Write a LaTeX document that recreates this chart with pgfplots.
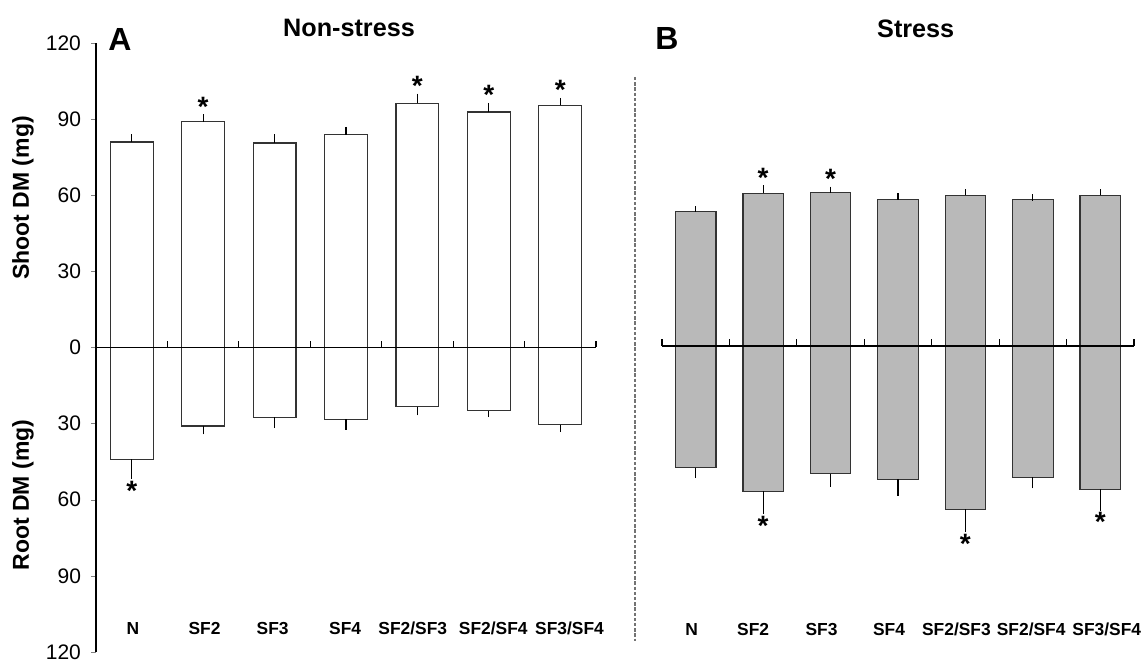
\documentclass[border=0pt]{standalone}
\usepackage{fontspec}
\setmainfont{Liberation Sans}
\usepackage{pgfplots}
\usepackage{pgfplotstable}
\pgfplotsset{compat=1.18}

% x: category centre; s: shoot DM; se: shoot error; r: root DM (negative, drawn downward); re: root error
\pgfplotstableread{
x   s     se   r      re
0.5 81.0  1.8  -44.1  6.5
1.5 89.0  1.7  -30.9  2.1
2.5 80.6  2.2  -27.5  3.0
3.5 83.9  1.8  -28.3  2.8
4.5 96.2  2.6  -23.3  2.2
5.5 92.8  2.3  -24.9  1.3
6.5 95.4  1.7  -30.4  1.7
}\nonstress

\pgfplotstableread{
x   s     se   r      re
0.5 53.1  0.8  -47.9  2.9
1.5 60.2  1.8  -57.3  7.6
2.5 60.6  0.9  -50.4  3.9
3.5 57.7  1.2  -52.5  5.2
4.5 59.4  1.2  -64.4  7.6
5.5 57.7  0.8  -51.7  3.1
6.5 59.4  1.2  -56.4  7.2
}\stress

% shifted category label: #1 = horizontal shift (kern), #2 = text
\newcommand\lab[2]{\makebox[0pt]{\kern#1pt\relax #2}}

\tikzset{sigstar/.style={font=\bfseries\fontsize{14}{14}\selectfont, inner sep=0pt, yshift=-1pt}}

\pgfplotsset{
  panel/.style={
    anchor=south west, scale only axis,
    width=#1, height=304.5pt,
    xmin=0, xmax=7, ymin=-120, ymax=120,
    axis x line*=middle,
    axis line style={black, line width=0.6pt},
    x axis line style={line width=0.9pt},
    axis on top,
    xtick={0.5,1.5,...,6.5},
    major x tick style={draw=none},
    xticklabel style={anchor=base, yshift=-141pt, font=\bfseries\fontsize{8.7}{10}\selectfont},
    /pgf/number format/assume math mode=true,
    clip=false,
  },
  barbase/.style={ybar, bar width=0.6, bar shift=0pt, draw=black!80, line width=0.6pt,
    error bars/y explicit,
    error bars/error bar style={black, line width=0.6pt},
    error bars/error mark options={black, mark size=1.6pt, line width=0.6pt}},
  shoot/.style={barbase, error bars/y dir=plus},
  root/.style={barbase, error bars/y dir=minus},
}

\begin{document}
\begin{tikzpicture}
\path[use as bounding box] (0,0) rectangle (571.5pt,331pt);

% ---------- Panel A ----------
\begin{axis}[panel=250pt, at={(48pt,5pt)},
    axis y line*=left,
    ytick={-120,-90,...,120},
    yticklabels={120,90,60,30,0,30,60,90,120},
    hide obscured y ticks=false,
    tick align=outside, major tick length=2.5pt,
    yticklabel style={font=\fontsize{10.5}{12}\selectfont, xshift=-1.5pt},
    xticklabels={\lab{1.3}{N},\lab{1.4}{SF2},\lab{-1.9}{SF3},\lab{-0.8}{SF4},\lab{-4.6}{SF2/SF3},\lab{4.4}{SF2/SF4},\lab{9.2}{SF3/SF4}},
  ]
  \addplot[shoot, fill=white] table[x=x, y=s, y error=se] {\nonstress};
  \addplot[root, fill=white] table[x=x, y=r, y error minus=re] {\nonstress};
  \pgfplotsinvokeforeach{0,...,7}{\draw[black, line width=0.6pt] (axis cs:#1,0) -- ([yshift=3.3pt]axis cs:#1,0);}
  \node[sigstar] at (axis cs:1.5,95.8) {*};
  \node[sigstar] at (axis cs:4.5,103.9) {*};
  \node[sigstar] at (axis cs:5.5,100.2) {*};
  \node[sigstar] at (axis cs:6.5,102.2) {*};
  \node[sigstar] at (axis cs:0.5,-55.7) {*};
\end{axis}

% ---------- Panel B ----------
\begin{axis}[panel=236pt, at={(331pt,5.75pt)},
    axis y line=none,
    xticklabel style={yshift=-3.5pt},
    xticklabels={\lab{-4}{N},\lab{-10}{SF2},\lab{-9}{SF3},\lab{-9}{SF4},\lab{-9}{SF2/SF3},\lab{-1.7}{SF2/SF4},\lab{6.5}{SF3/SF4}},
  ]
  \addplot[shoot, fill=gray!55] table[x=x, y=s, y error=se] {\stress};
  \addplot[root, fill=gray!55] table[x=x, y=r, y error minus=re] {\stress};
  \pgfplotsinvokeforeach{0,...,7}{\draw[black, line width=0.6pt] (axis cs:#1,0) -- ([yshift=3.3pt]axis cs:#1,0);}
  \node[sigstar] at (axis cs:1.5,67.1) {*};
  \node[sigstar] at (axis cs:2.5,66.6) {*};
  \node[sigstar] at (axis cs:1.5,-70.0) {*};
  \node[sigstar] at (axis cs:4.5,-77.1) {*};
  \node[sigstar] at (axis cs:6.5,-68.7) {*};
\end{axis}

% separator
\draw[black!55, line width=0.8pt, dash pattern=on 1.7pt off 0.9pt] (317.35pt,292.5pt) -- (317.35pt,10.5pt);

% titles and labels
\node[font=\bfseries\fontsize{16}{16}\selectfont] at (60pt,311pt) {A};
\node[font=\bfseries\fontsize{12.6}{14}\selectfont] at (174.5pt,317pt) {Non-stress};
\node[font=\bfseries\fontsize{16}{16}\selectfont] at (333.5pt,311.5pt) {B};
\node[font=\bfseries\fontsize{12.6}{14}\selectfont] at (457.85pt,316.5pt) {Stress};
\node[rotate=90, font=\bfseries\fontsize{11.5}{13}\selectfont] at (11.5pt,232pt) {Shoot DM (mg)};
\node[rotate=90, font=\bfseries\fontsize{11.5}{13}\selectfont] at (11.5pt,83.5pt) {Root DM (mg)};
\end{tikzpicture}
\end{document}
